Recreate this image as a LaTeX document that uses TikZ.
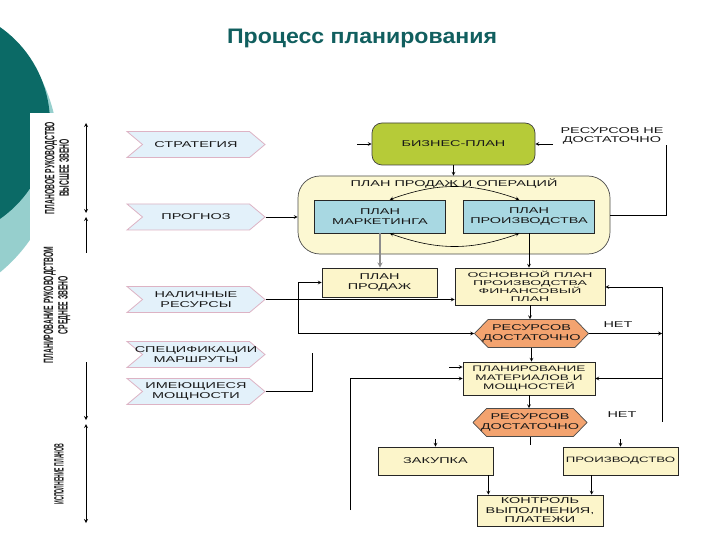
\documentclass[tikz,border=0pt]{standalone}
\usepackage{fontspec}
\setmainfont{Liberation Sans}
\newfontfamily\boxfont[FakeStretch=1.7]{Liberation Sans}
\newfontfamily\tallfont[FakeStretch=2.0]{Liberation Sans}
\newfontfamily\titlefont[FakeStretch=1.1]{Liberation Sans}
\newfontfamily\sidefont[FakeStretch=0.5]{Liberation Sans}
\newfontfamily\narrowfont[FakeStretch=0.38]{Liberation Sans}
\usetikzlibrary{shapes.symbols}
\definecolor{tealdark}{HTML}{0B6A66}
\definecolor{teallight}{HTML}{96CFCD}
\definecolor{titleteal}{HTML}{115F5F}
\definecolor{chevfill}{HTML}{E3F1FA}
\definecolor{chevline}{HTML}{DDB3C4}
\definecolor{bizgreen}{HTML}{B6CB38}
\definecolor{sopfill}{HTML}{FCF8D2}
\definecolor{planblue}{HTML}{A8D8E2}
\definecolor{boxyellow}{HTML}{FCF5CA}
\definecolor{hexorange}{HTML}{F3A36F}

\begin{document}
\begin{tikzpicture}[x=1pt, y=-1pt,
	every node/.style={font=\boxfont\fontsize{8.5}{9.5}\selectfont, align=center, inner sep=1pt, text=black!90},
	chev/.style={signal, signal to=east, signal from=west, signal pointer angle=80, draw=chevline, fill=chevfill, line width=0.8pt, minimum width=138pt, minimum height=26pt},
	box/.style={draw=black!85, fill=boxyellow, line width=0.7pt},
	planbox/.style={draw=black!85, fill=planblue, line width=0.7pt, minimum width=131pt, minimum height=33pt},
	hexbox/.style={signal, signal to=east and west, signal pointer angle=92, draw=black!70, fill=hexorange, line width=0.7pt, minimum width=114pt, minimum height=28pt, inner xsep=-10pt},
	link/.style={line width=0.7pt, -stealth},
	sidelabel/.style={rotate=90, font=\sidefont\bfseries\fontsize{13.5}{14.5}\selectfont, inner sep=0pt, text=black!90}
]
		% background
		\clip (0,0) rectangle (720,540);
		\fill[teallight] (-100,150) circle (158pt);
		\fill[tealdark] (-67,123) circle (117pt);
		\fill[white] (30,113) rectangle (720,540);

		\node[font=\titlefont\bfseries\fontsize{21}{24}\selectfont, text=titleteal] (title) at (362,38) {Процесс планирования};

		% left scale
		\node[sidelabel] (lvltop) at (57,168) {ПЛАНОВОЕ РУКОВОДСТВО\\ВЫСШЕЕ ЗВЕНО};
		\node[sidelabel] (lvlmid) at (57,305) {ПЛАНИРОВАНИЕ РУКОВОДСТВОМ\\СРЕДНЕЕ ЗВЕНО};
		\node[sidelabel, font=\narrowfont\bfseries\fontsize{13.5}{14.5}\selectfont] (lvlbot) at (59,474) {ИСПОЛНЕНИЕ ПЛАНОВ};
		\coordinate (a1) at (86,123);
		\coordinate (a2) at (86,213);
		\coordinate (a3) at (86,217);
		\coordinate (a4) at (86,253);
		\coordinate (a5) at (86,362);
		\coordinate (a6) at (86,420);
		\coordinate (a7) at (86,424);
		\coordinate (a8) at (86,523);
		\draw[line width=0.8pt, stealth-stealth] (a1) -- (a2);
		\draw[line width=0.8pt, stealth-] (a3) -- (a4);
		\draw[line width=0.8pt, -stealth] (a5) -- (a6);
		\draw[line width=0.8pt, stealth-stealth] (a7) -- (a8);

		% inputs
		\node[chev] (strat) at (196,144.5) {СТРАТЕГИЯ};
		\node[chev] (fcst) at (196,217) {ПРОГНОЗ};
		\node[chev] (res) at (196,299.5) {НАЛИЧНЫЕ\\РЕСУРСЫ};
		\node[chev, inner xsep=-14pt] (spec) at (196,354.5) {СПЕЦИФИКАЦИИ\\МАРШРУТЫ};
		\node[chev] (cap) at (196,391.5) {ИМЕЮЩИЕСЯ\\МОЩНОСТИ};

		% plans
		\node[draw=black!75, fill=bizgreen, rounded corners=10pt, minimum width=163pt, minimum height=42pt, line width=0.7pt] (biz) at (453.5,144) {БИЗНЕС-ПЛАН};
		\node[draw=black!70, fill=sopfill, rounded corners=22pt, minimum width=312pt, minimum height=78pt, line width=0.7pt] (sop) at (454,215) {};
		\node (soptitle) at (454,184) {ПЛАН ПРОДАЖ И ОПЕРАЦИЙ};
		\node[planbox] (mkt) at (380,216.5) {ПЛАН\\МАРКЕТИНГА};
		\node[planbox] (prod) at (529,216.5) {ПЛАН\\ПРОИЗВОДСТВА};
		\node[box, minimum width=115pt, minimum height=29pt] (sales) at (379.5,282.5) {ПЛАН\\ПРОДАЖ};
		\node[box, minimum width=150pt, minimum height=37pt, font=\tallfont\fontsize{7}{7.6}\selectfont] (mps) at (530,286.5) {ОСНОВНОЙ ПЛАН\\ПРОИЗВОДСТВА\\ФИНАНСОВЫЙ\\ПЛАН};
		\node[hexbox] (hex1) at (531.5,333.5) {РЕСУРСОВ\\ДОСТАТОЧНО};
		\node[box, minimum width=132pt, minimum height=33pt, font=\boxfont\fontsize{8}{9}\selectfont] (mrp) at (529,378.5) {ПЛАНИРОВАНИЕ\\МАТЕРИАЛОВ И\\МОЩНОСТЕЙ};
		\node[hexbox] (hex2) at (530,422.5) {РЕСУРСОВ\\ДОСТАТОЧНО};
		\node[box, minimum width=115pt, minimum height=28pt] (buy) at (435.5,461) {ЗАКУПКА};
		\node[box, minimum width=115pt, minimum height=28pt, inner xsep=0pt, font=\boxfont\fontsize{7.8}{9}\selectfont] (make) at (620.5,461) {ПРОИЗВОДСТВО};
		\node[box, minimum width=126pt, minimum height=31pt] (ctrl) at (540,510.5) {КОНТРОЛЬ\\ВЫПОЛНЕНИЯ,\\ПЛАТЕЖИ};

		\node (short) at (612,136) {РЕСУРСОВ НЕ\\ДОСТАТОЧНО};
		\node (no1) at (618,325) {НЕТ};
		\node (no2) at (622,415) {НЕТ};

		% connectors
		\coordinate (s1) at (357,144);
		\draw[link] (s1) -- (s1 -| biz.west);
		\coordinate (r1) at (666,145);
		\draw[line width=0.7pt] (sop.east) -| (r1);
		\coordinate (s2) at (553,144);
		\draw[link] (s2) -- (s2 -| biz.east);
		\draw[link] (biz.south) -- (biz.south |- sop.north);
		\draw[link] (fcst.east) -- (fcst.east -| sop.west);
		\draw[line width=0.6pt, stealth-stealth] (mkt.60) to[bend left=20] (prod.120);
		\draw[line width=0.6pt, stealth-stealth] (mkt.-60) to[bend right=20] (prod.-120);
		\draw[link, draw=black!45, line width=1.3pt] (mkt.south) -- (mkt.south |- sales.north);
		\draw[link] (prod.south) -- (prod.south |- mps.north);

		\coordinate (l1) at (298,333.5);
		\coordinate (l2) at (298,282.5);
		\draw[line width=0.7pt, stealth-stealth] (hex1.west) -- (l1) -- (l2) -- (sales.west);
		\draw[link] (res.east) -- (res.east -| mps.west);
		\draw[link] (mps.south) -- (mps.south |- hex1.north);

		\coordinate (vr1) at (662,287);
		\coordinate (vr2) at (662,422);
		\draw[line width=0.7pt] (vr1) -- (vr2);
		\draw[link] (vr1) -- (vr1 -| mps.east);
		\draw[link] (hex1.east) -- (hex1.east -| vr1);
		\draw[link] (vr1 |- mrp.east) -- (mrp.east);
		\draw[link] (hex1.south) -- (hex1.south |- mrp.north);

		\coordinate (fb) at (350,510);
		\draw[link] (fb) |- (mrp.west);
		\coordinate (c1) at (312,353);
		\draw[line width=0.7pt] (cap.east) -| (c1);
		\coordinate (s3) at (449,367);
		\draw[link] (s3) -- (s3 -| mrp.west);

		\draw[link] (mrp.south) -- (mrp.south |- hex2.north);
		\draw[line width=0.7pt] (hex2.south) -- ++(0,8);
		\draw[line width=0.7pt, stealth-] (buy.north) -- ++(0,-8);
		\draw[line width=0.7pt, stealth-] (make.north) -- ++(0,-8);
		\coordinate (b1) at ([xshift=-5pt]buy.south east);
		\coordinate (b2) at ([xshift=29pt]make.south west);
		\draw[link] (b1) -- (b1 |- ctrl.north);
		\draw[link] (b2) -- (b2 |- ctrl.north);

	\end{tikzpicture}
\end{document}
